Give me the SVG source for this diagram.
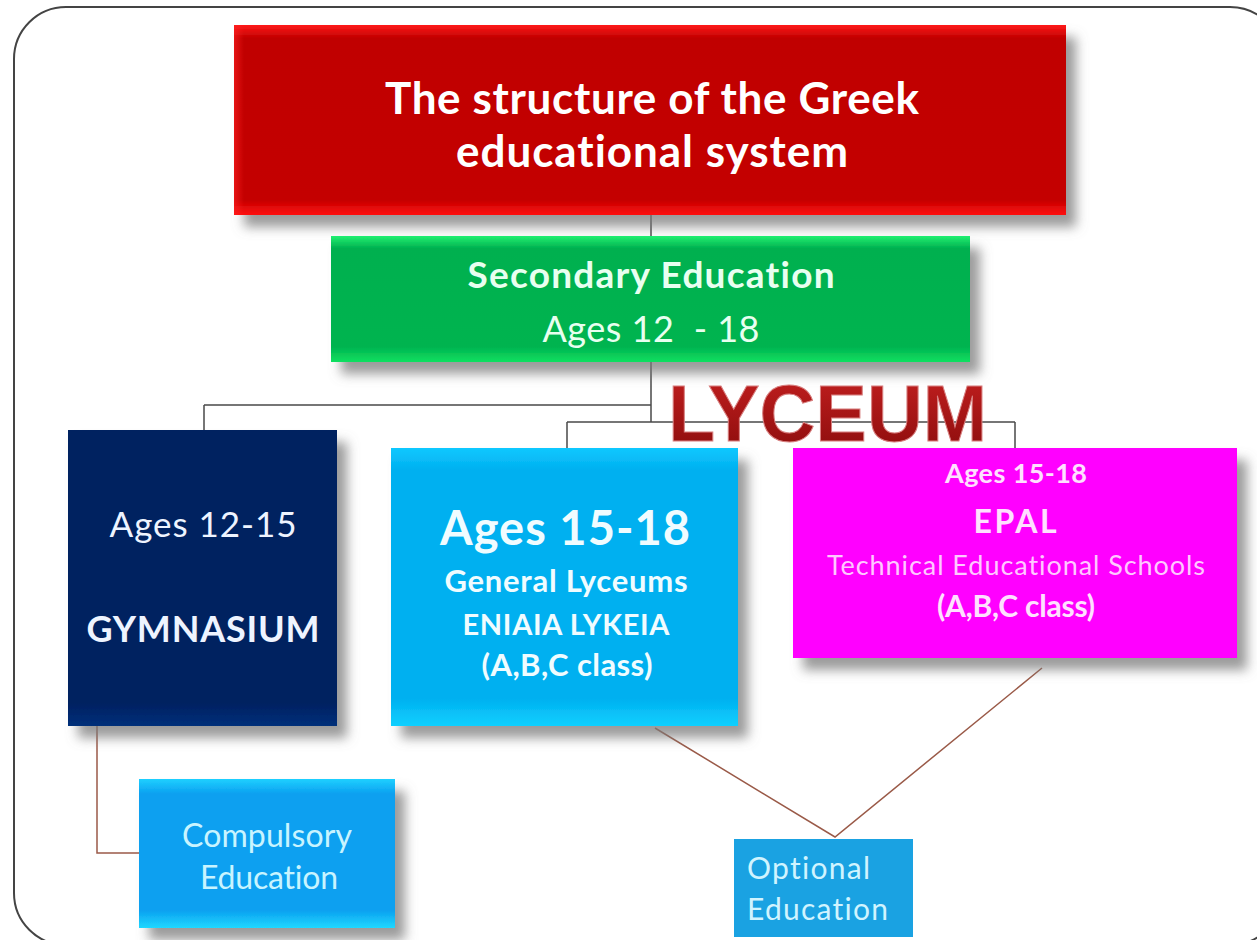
<svg xmlns="http://www.w3.org/2000/svg" width="1257" height="940" viewBox="0 0 1257 940">
<defs>
<filter id="sh" x="-20%" y="-20%" width="150%" height="150%">
<feGaussianBlur in="SourceAlpha" stdDeviation="6"/>
<feOffset dx="10" dy="12" result="b"/>
<feFlood flood-color="#7a7a7a" flood-opacity="0.75"/>
<feComposite in2="b" operator="in"/>
<feMerge><feMergeNode/><feMergeNode in="SourceGraphic"/></feMerge>
</filter>
<linearGradient id="gRed" x1="0" y1="0" x2="0" y2="1">
<stop offset="0" stop-color="#ff1a1a"/><stop offset="0.07" stop-color="#c00000"/><stop offset="0.92" stop-color="#c40000"/><stop offset="1" stop-color="#ff1010"/>
</linearGradient>
<linearGradient id="gRedL" x1="0" y1="0" x2="1" y2="0">
<stop offset="0" stop-color="#ff2020" stop-opacity="0.6"/><stop offset="0.012" stop-color="#ff2020" stop-opacity="0"/><stop offset="1" stop-color="#ff2020" stop-opacity="0"/>
</linearGradient>
<linearGradient id="gGreen" x1="0" y1="0" x2="0" y2="1">
<stop offset="0" stop-color="#20f070"/><stop offset="0.1" stop-color="#00b050"/><stop offset="0.88" stop-color="#00b450"/><stop offset="1" stop-color="#10e060"/>
</linearGradient>
<linearGradient id="gNavy" x1="0" y1="0" x2="0" y2="1">
<stop offset="0" stop-color="#002060"/><stop offset="0.92" stop-color="#002060"/><stop offset="1" stop-color="#00307a"/>
</linearGradient>
<linearGradient id="gCyan" x1="0" y1="0" x2="0" y2="1">
<stop offset="0" stop-color="#10c8ff"/><stop offset="0.08" stop-color="#00b0f0"/><stop offset="0.9" stop-color="#00b0f0"/><stop offset="1" stop-color="#10d0ff"/>
</linearGradient>
<linearGradient id="gBlue" x1="0" y1="0" x2="0" y2="1">
<stop offset="0" stop-color="#20d0ff"/><stop offset="0.1" stop-color="#0aa0f0"/><stop offset="0.88" stop-color="#0aa0f0"/><stop offset="1" stop-color="#20d8ff"/>
</linearGradient>
<linearGradient id="gLy" x1="0" y1="0" x2="0" y2="1">
<stop offset="0" stop-color="#c42020"/><stop offset="1" stop-color="#8a0c0c"/>
</linearGradient>
</defs>
<style>
.t{font-family:Lato,"Open Sans","Liberation Sans",sans-serif;text-anchor:middle;fill:#ffffff;font-variant-ligatures:none}
.b{font-weight:bold}
.c{stroke-width:1.5;fill:none}
.g{stroke:#4a4a4a}
.br{stroke:#9a5a48}
</style>
<rect x="14" y="7" width="1268" height="938" rx="52" ry="52" fill="#ffffff" stroke="#444444" stroke-width="2"/>

<g id="connectors">
<path class="c g" d="M651 215 V236"/>
<path class="c g" d="M651 362 V422 M204 405 H651 M204 405 V430 M567 422 H1015 M567 422 V448 M1015 422 V448"/>
<path class="c br" d="M97 726 V853 H140"/>
<path class="c br" d="M655 728 L835 837 L1042 668"/>
</g>

<g id="title">
<rect x="234" y="25" width="832" height="190" fill="url(#gRed)" filter="url(#sh)"/>
<rect x="234" y="25" width="832" height="190" fill="url(#gRedL)"/>
<text class="t b" x="652" y="114" font-size="44" textLength="534">The structure of the Greek</text>
<text class="t b" x="652" y="167" font-size="44" textLength="392">educational system</text>
</g>

<g id="secondary">
<rect x="331" y="236" width="639" height="126" fill="url(#gGreen)" filter="url(#sh)"/>
<text class="t b" x="651" y="288" font-size="37" textLength="367" style="fill:#e8fff0">Secondary Education</text>
<text class="t" x="651" y="342" font-size="36" textLength="217" style="fill:#e8fff0" xml:space="preserve">Ages 12  - 18</text>
</g>

<g id="lyceum">
<text x="668" y="441" font-family="'Liberation Sans',Arial,sans-serif" font-weight="bold" font-size="80" textLength="319" lengthAdjust="spacingAndGlyphs" fill="url(#gLy)" stroke="#d88080" stroke-width="1">LYCEUM</text>
</g>

<g id="gymnasium">
<rect x="68" y="430" width="269" height="296" fill="url(#gNavy)" filter="url(#sh)"/>
<text class="t" x="203" y="537" font-size="35" textLength="187" style="fill:#eef4ff">Ages 12-15</text>
<text class="t b" x="203" y="642" font-size="36" textLength="233" style="fill:#eef4ff">GYMNASIUM</text>
</g>

<g id="general">
<rect x="391" y="448" width="347" height="278" fill="url(#gCyan)" filter="url(#sh)"/>
<text class="t b" x="565" y="545" font-size="47" textLength="250" style="fill:#f0fcff">Ages 15-18</text>
<text class="t b" x="566" y="592" font-size="31" textLength="243" style="fill:#f0fcff">General Lyceums</text>
<text class="t b" x="566" y="635" font-size="29" textLength="207" style="fill:#f0fcff">ENIAIA LYKEIA</text>
<text class="t b" x="567" y="676" font-size="31" textLength="171" style="fill:#f0fcff">(A,B,C class)</text>
</g>

<g id="epal">
<rect x="793" y="448" width="444" height="210" fill="#ff00ff" filter="url(#sh)"/>
<text class="t b" x="1016" y="483" font-size="27" textLength="142" style="fill:#ffe0ff">Ages 15-18</text>
<text class="t b" x="1015" y="533" font-size="32" textLength="83" style="fill:#ffe0ff">EPAL</text>
<text class="t" x="1016" y="575" font-size="27" textLength="378" style="fill:#ffc8ff">Technical Educational Schools</text>
<text class="t b" x="1016" y="617" font-size="30" textLength="158" style="fill:#ffe0ff">(A,B,C class)</text>
</g>

<g id="compulsory">
<rect x="139" y="779" width="256" height="149" fill="url(#gBlue)" filter="url(#sh)"/>
<text class="t" x="267" y="847" font-size="32" textLength="170" style="fill:#c8f4ff">Compulsory</text>
<text class="t" x="269" y="889" font-size="32" textLength="138" style="fill:#c8f4ff">Education</text>
</g>

<g id="optional">
<rect x="734" y="839" width="179" height="98" fill="#1aa2e2"/>
<text class="t" x="747" y="879" font-size="30" textLength="123" style="fill:#d0f4ff;text-anchor:start">Optional</text>
<text class="t" x="747" y="920" font-size="30" textLength="141" style="fill:#d0f4ff;text-anchor:start">Education</text>
</g>
</svg>
